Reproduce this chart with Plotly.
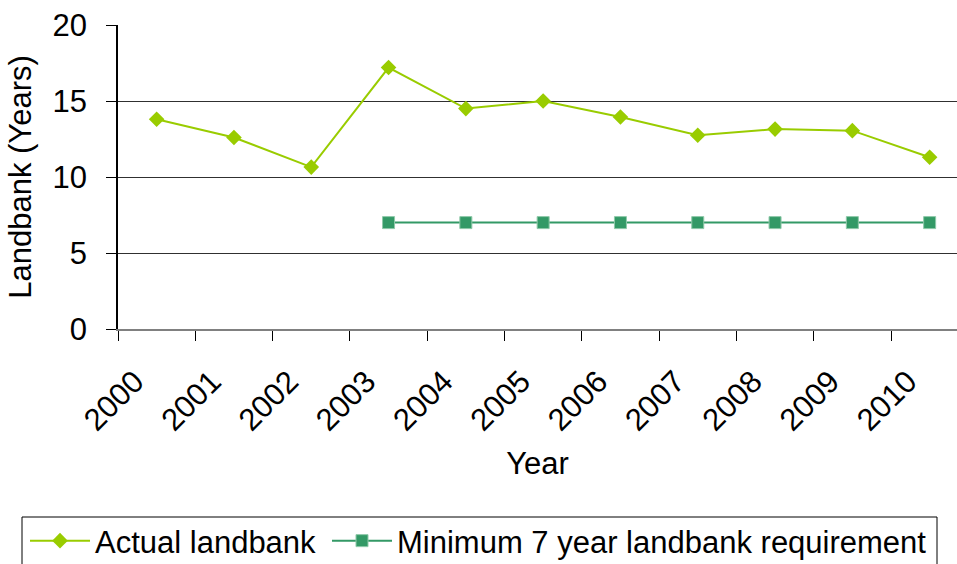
import plotly.graph_objects as go

years = ["2000", "2001", "2002", "2003", "2004", "2005", "2006", "2007", "2008", "2009", "2010"]
actual = [13.8, 12.6, 10.65, 17.2, 14.5, 15.0, 13.95, 12.75, 13.15, 13.05, 11.3]
minimum = [None, None, None, 7, 7, 7, 7, 7, 7, 7, 7]

xpos = list(range(len(years)))
FONT = "Liberation Sans, Arial, sans-serif"
FS = 31
W, H = 957, 564
left, right, top, bottom = 118, 957, 25, 329

fig = go.Figure()
fig.add_trace(go.Scatter(
    x=xpos, y=actual, mode="lines+markers", name="Actual landbank",
    line=dict(color="#99CC00", width=2),
    marker=dict(symbol="diamond", size=12, color="#99CC00"),
    legend="legend",
))
fig.add_trace(go.Scatter(
    x=xpos, y=minimum, mode="lines+markers", name="Minimum 7 year landbank requirement",
    line=dict(color="#339966", width=2),
    marker=dict(symbol="square", size=12, color="#339966", line=dict(color="#8FC9A9", width=1)),
    legend="legend2",
))

px_per_cat = 77.3
x_max = -0.5 + (right - left) / px_per_cat

def px_to_paper_x(px):
    return (px - left) / (right - left)

def px_to_paper_y(py):
    return (bottom - py) / (bottom - top)

leg_common = dict(
    orientation="h", xref="container", yref="container",
    xanchor="left", yanchor="top", borderwidth=0, bgcolor="rgba(0,0,0,0)",
    font=dict(family=FONT, size=FS, color="black"), itemwidth=60,
)

fig.update_layout(
    width=W, height=H,
    margin=dict(l=left, r=W - right, t=top, b=H - bottom),
    paper_bgcolor="white", plot_bgcolor="white",
    font=dict(family=FONT, size=FS, color="black"),
    showlegend=True,
    legend=dict(leg_common, x=25 / W, y=1 - 514 / H),
    legend2=dict(leg_common, x=327 / W, y=1 - 514 / H),
    shapes=[dict(
        type="rect", xref="paper", yref="paper",
        x0=px_to_paper_x(22), x1=px_to_paper_x(937),
        y0=px_to_paper_y(517), y1=px_to_paper_y(580),
        line=dict(color="black", width=1), fillcolor="rgba(0,0,0,0)", layer="below",
    )],
    xaxis=dict(
        range=[-0.5, x_max], tickmode="array", tickvals=xpos, ticktext=years,
        tickangle=-45, ticks="", showgrid=False, zeroline=False,
        showline=True, linecolor="#808080", linewidth=2,
        ticklabelstandoff=20, ticklabelshift=-22,
        minor=dict(tickmode="array", tickvals=[i - 0.5 for i in range(len(years) + 1)],
                   ticks="outside", ticklen=10, tickcolor="black", tickwidth=1, showgrid=False),
        title=dict(text="Year", standoff=16, font=dict(family=FONT, size=FS)),
        tickfont=dict(family=FONT, size=FS),
    ),
    yaxis=dict(
        range=[0, 20], tickvals=[0, 5, 10, 15, 20], ticks="outside", ticklen=10,
        tickcolor="black", showgrid=True, gridcolor="#303030", gridwidth=1,
        zeroline=False, showline=True, linecolor="black", linewidth=1.5,
        ticklabelstandoff=13,
        title=dict(text="Landbank (Years)", standoff=12, font=dict(family=FONT, size=FS)),
        tickfont=dict(family=FONT, size=FS),
    ),
)

fig.write_html("out.html")
